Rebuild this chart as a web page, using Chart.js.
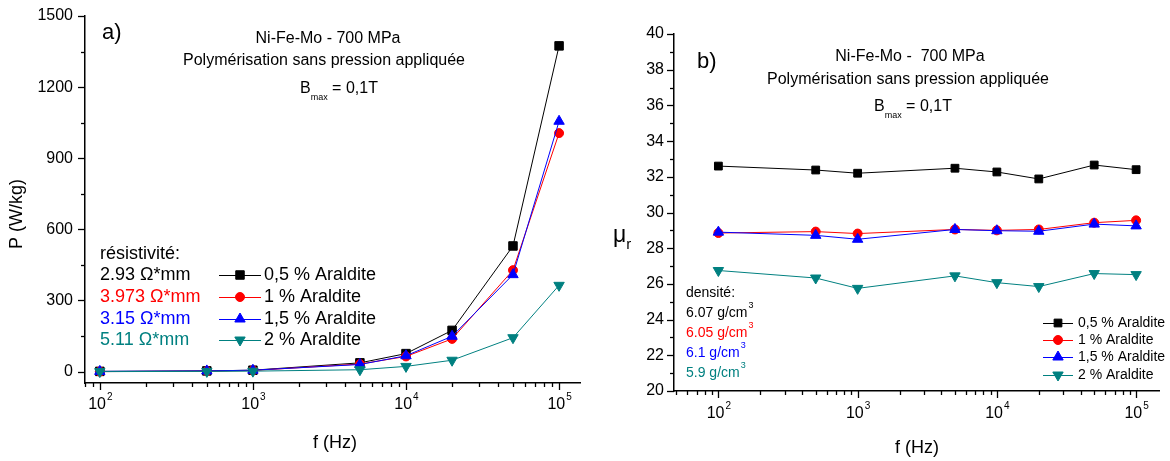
<!DOCTYPE html>
<html>
<head>
<meta charset="utf-8">
<script src="https://cdn.jsdelivr.net/npm/chart.js@4.4.0/dist/chart.umd.min.js"></script>
<style>
  body { margin: 0; background: #fff; }
  #wrap { position: relative; width: 1170px; height: 461px; }
  canvas { position: absolute; top: 0; }
</style>
</head>
<body>
<div id="wrap">
  <canvas id="chartA" width="590" height="461" style="left:0"></canvas>
  <canvas id="chartB" width="580" height="461" style="left:590px"></canvas>
</div>
<script>
const FONT = "'Liberation Sans', Arial, sans-serif";

// frequences (Hz)
const frequencies = [100, 500, 1000, 5000, 10000, 20000, 50000, 100000];

// a) pertes P (W/kg)
const lossAraldite05 = [1, 3, 6, 37, 76, 174, 530, 1374];
const lossAraldite1 = [0, 2, 5, 32, 64, 138, 428, 1006];
const lossAraldite15 = [1, 3, 6, 30, 67, 149, 409, 1056];
const lossAraldite2 = [0, 1, 2, 8, 22, 48, 143, 364];

// b) permeabilite relative
const permAraldite05 = [32.6, 32.38, 32.2, 32.48, 32.27, 31.88, 32.66, 32.4];
const permAraldite1 = [28.85, 28.93, 28.82, 29.05, 29.0, 29.05, 29.43, 29.56];
const permAraldite15 = [28.9, 28.72, 28.5, 29.05, 28.98, 28.95, 29.35, 29.25];
const permAraldite2 = [26.75, 26.33, 25.75, 26.45, 26.07, 25.85, 26.58, 26.52];

const seriesNames = ['0,5 % Araldite', '1 % Araldite', '1,5 % Araldite', '2 % Araldite'];
const resistivityLabels = ['2.93 \u03A9*mm', '3.973 \u03A9*mm', '3.15 \u03A9*mm', '5.11 \u03A9*mm'];
const densityLabels = ['6.07 g/cm', '6.05 g/cm', '6.1 g/cm', '5.9 g/cm'];
const decadeExponents = [2, 3, 4, 5];
const lossTicks = [0, 300, 600, 900, 1200, 1500];
const permTicks = [20, 22, 24, 26, 28, 30, 32, 34, 36, 38, 40];

// styles
const seriesColors = ['#000000', '#ff0000', '#0000ff', '#008080'];
const markerStyles = ['rect', 'circle', 'triangle', 'triangle'];
const markerRotation = [0, 0, 0, 180];

function makeDatasets(seriesList, radii) {
  return seriesList.map((values, i) => ({
    label: seriesNames[i],
    data: frequencies.map((f, j) => ({ x: f, y: values[j] })),
    showLine: true,
    borderColor: seriesColors[i],
    backgroundColor: seriesColors[i],
    borderWidth: 1,
    pointStyle: markerStyles[i],
    rotation: markerRotation[i],
    pointRadius: radii[i],
    pointHoverRadius: radii[i],
    pointBorderWidth: 1,
    order: seriesList.length - 1 - i,
    clip: false
  }));
}

function text(ctx, str, x, y, size, color, align) {
  ctx.font = size + 'px ' + FONT;
  ctx.fillStyle = color || '#000';
  ctx.textAlign = align || 'left';
  ctx.textBaseline = 'middle';
  ctx.fillText(str, x, y);
  return ctx.measureText(str).width;
}

// marqueur de legende (meme geometrie que Chart.js)
function marker(ctx, style, rot, r, x, y, color) {
  ctx.save();
  ctx.fillStyle = color;
  ctx.strokeStyle = color;
  ctx.lineWidth = 1;
  ctx.beginPath();
  if (style === 'rect') {
    const s = r * Math.SQRT1_2;
    ctx.rect(x - s, y - s, 2 * s, 2 * s);
  } else if (style === 'circle') {
    ctx.arc(x, y, r, 0, Math.PI * 2);
  } else {
    let a = rot * Math.PI / 180;
    ctx.moveTo(x + Math.sin(a) * r, y - Math.cos(a) * r);
    a += 2 * Math.PI / 3;
    ctx.lineTo(x + Math.sin(a) * r, y - Math.cos(a) * r);
    a += 2 * Math.PI / 3;
    ctx.lineTo(x + Math.sin(a) * r, y - Math.cos(a) * r);
    ctx.closePath();
  }
  ctx.fill();
  ctx.stroke();
  ctx.restore();
}

function legendRows(ctx, x1, x2, textX, rows, radii, size) {
  rows.forEach((y, i) => {
    ctx.save();
    ctx.strokeStyle = seriesColors[i];
    ctx.lineWidth = 1;
    ctx.beginPath();
    ctx.moveTo(x1, y + 0.5);
    ctx.lineTo(x2, y + 0.5);
    ctx.stroke();
    ctx.restore();
    marker(ctx, markerStyles[i], markerRotation[i], radii[i], (x1 + x2) / 2, y, seriesColors[i]);
    text(ctx, seriesNames[i], textX, y, size, '#000');
  });
}

function bmax(ctx, x, y, size) {
  let w = text(ctx, 'B', x, y, size);
  w += text(ctx, 'max', x + w, y + 9, 9);
  text(ctx, ' = 0,1T', x + w, y, size);
}

// ticks en dehors + etiquettes 10^n
const axisTicks = {
  id: 'axisTicks',
  afterDraw(chart, args, opts) {
    const ctx = chart.ctx;
    const xs = chart.scales.x, ys = chart.scales.y;
    const area = chart.chartArea;
    ctx.save();
    ctx.strokeStyle = '#000';
    ctx.lineWidth = 1.3;
    for (let v = Math.ceil(ys.min / opts.yMinor) * opts.yMinor; v <= ys.max + 1e-9; v += opts.yMinor) {
      const major = Math.abs(v / opts.yMajor - Math.round(v / opts.yMajor)) < 1e-6;
      const py = Math.round(ys.getPixelForValue(v)) + 0.5;
      const len = major ? 7 : 4;
      ctx.beginPath();
      ctx.moveTo(area.left - len, py);
      ctx.lineTo(area.left, py);
      ctx.stroke();
    }
    const e0 = Math.floor(Math.log10(xs.min)), e1 = Math.ceil(Math.log10(xs.max));
    for (let e = e0; e <= e1; e++) {
      for (let k = 1; k < 10; k++) {
        const v = k * Math.pow(10, e);
        if (v < xs.min || v > xs.max) continue;
        const px = Math.round(xs.getPixelForValue(v)) + 0.5;
        const len = k === 1 ? 7 : 4;
        ctx.beginPath();
        ctx.moveTo(px, area.bottom);
        ctx.lineTo(px, area.bottom + len);
        ctx.stroke();
      }
    }
    decadeExponents.forEach(e => {
      const px = xs.getPixelForValue(Math.pow(10, e));
      ctx.font = '16px ' + FONT;
      const w1 = ctx.measureText('10').width;
      ctx.font = '10px ' + FONT;
      const w2 = ctx.measureText(String(e)).width;
      const left = px - (w1 + w2) / 2;
      text(ctx, '10', left, opts.labelY, 16);
      text(ctx, String(e), left + w1 + 1, opts.labelY - 8, 10);
    });
    ctx.restore();
  }
};

function baseScales(xMin, xMax, xHeight, yMin, yMax, yTicks, yWidth, pad) {
  return {
    x: {
      type: 'logarithmic', min: xMin, max: xMax,
      grid: { display: false, drawTicks: false },
      border: { display: true, color: '#000', width: 1.5 },
      ticks: { display: false },
      afterFit: s => {
        s.height = xHeight;
        s.paddingLeft = 0; s.paddingRight = 0; s.paddingTop = 0; s.paddingBottom = 0;
      }
    },
    y: {
      type: 'linear', min: yMin, max: yMax,
      grid: { display: false, drawTicks: false },
      border: { display: true, color: '#000', width: 1.5 },
      afterBuildTicks: s => { s.ticks = yTicks.map(v => ({ value: v })); },
      ticks: { color: '#000', font: { family: FONT, size: 16 }, padding: pad, callback: v => String(v) },
      afterFit: s => {
        s.width = yWidth;
        s.paddingLeft = 0; s.paddingRight = 0; s.paddingTop = 0; s.paddingBottom = 0;
      }
    }
  };
}

// a) pertes
new Chart(document.getElementById('chartA'), {
  type: 'scatter',
  data: { datasets: makeDatasets([lossAraldite05, lossAraldite1, lossAraldite15, lossAraldite2], [6, 4.5, 6, 6]) },
  options: {
    responsive: false, animation: false, devicePixelRatio: 1,
    layout: { padding: { top: 16, right: 10, left: 0, bottom: 0 } },
    scales: baseScales(80, 137000, 78, -48, 1500, lossTicks, 85, 12),
    plugins: {
      legend: { display: false }, tooltip: { enabled: false },
      axisTicks: { yMajor: 300, yMinor: 150, labelY: 405 }
    }
  },
  plugins: [axisTicks, {
    id: 'notesA',
    afterDraw(chart) {
      const ctx = chart.ctx;
      ctx.save();
      text(ctx, 'a)', 102, 33, 22);
      text(ctx, 'Ni-Fe-Mo - 700 MPa', 328, 39, 16, '#000', 'center');
      text(ctx, 'Polymérisation sans pression appliquée', 324, 61, 16, '#000', 'center');
      bmax(ctx, 300, 89, 16);
      text(ctx, 'f (Hz)', 335, 443, 18, '#000', 'center');
      ctx.save();
      ctx.translate(17, 214);
      ctx.rotate(-Math.PI / 2);
      text(ctx, 'P (W/kg)', 0, 0, 18, '#000', 'center');
      ctx.restore();
      const rows = [275, 297, 319, 340];
      text(ctx, 'résistivité:', 100, 254, 18);
      resistivityLabels.forEach((s, i) => text(ctx, s, 100, rows[i], 18, seriesColors[i]));
      legendRows(ctx, 219, 261, 264, rows, [6, 4.5, 6, 6], 18);
      ctx.restore();
    }
  }]
});

// b) permeabilite
new Chart(document.getElementById('chartB'), {
  type: 'scatter',
  data: { datasets: makeDatasets([permAraldite05, permAraldite1, permAraldite15, permAraldite2], [5.5, 4.5, 6, 6]) },
  options: {
    responsive: false, animation: false, devicePixelRatio: 1,
    layout: { padding: { top: 34, right: 11, left: 0, bottom: 0 } },
    scales: baseScales(48, 146000, 70, 20, 40, permTicks, 84, 10),
    plugins: {
      legend: { display: false }, tooltip: { enabled: false },
      axisTicks: { yMajor: 2, yMinor: 1, labelY: 414 }
    }
  },
  plugins: [axisTicks, {
    id: 'notesB',
    afterDraw(chart) {
      const ctx = chart.ctx;
      ctx.save();
      text(ctx, 'b)', 107, 62, 22);
      text(ctx, 'Ni-Fe-Mo -  700 MPa', 320, 57, 16, '#000', 'center');
      text(ctx, 'Polymérisation sans pression appliquée', 318, 80, 16, '#000', 'center');
      bmax(ctx, 284, 107, 16);
      text(ctx, 'f (Hz)', 327, 448, 18, '#000', 'center');
      const w = text(ctx, '\u03BC', 23, 236, 23);
      text(ctx, 'r', 23 + w, 245, 15);
      text(ctx, 'densité:', 96, 293, 14);
      const rows = [313, 333, 353, 373];
      densityLabels.forEach((s, i) => {
        const ww = text(ctx, s, 96, rows[i], 14, seriesColors[i]);
        text(ctx, '3', 96 + ww + 1, rows[i] - 7, 9, seriesColors[i]);
      });
      legendRows(ctx, 453, 483, 488, [323, 340, 357, 375], [5.5, 4.5, 6, 6], 14);
      ctx.restore();
    }
  }]
});
</script>
</body>
</html>
